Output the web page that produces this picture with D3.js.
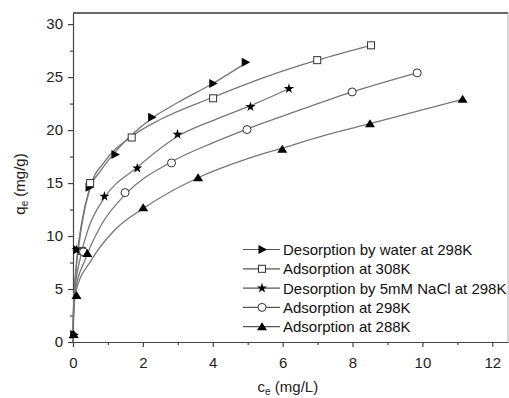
<!DOCTYPE html>
<html>
<head>
<meta charset="utf-8">
<script src="https://cdn.jsdelivr.net/npm/d3@7"></script>
<style>
  body { margin: 0; background: #fff; }
  svg { font-family: "Liberation Sans", Arial, sans-serif; }
  .axis path, .axis line { stroke: #444; stroke-width: 1.2; }
  .axis text { font-size: 15px; fill: #222; }
  .fitline { fill: none; stroke: #777; stroke-width: 1.3; }
</style>
</head>
<body>
<div id="chart"></div>
<script>
var waterDesorp298 = [[0.02, 0.7], [0.1, 8.7], [0.46, 14.6], [1.2, 17.7], [2.25, 21.2], [4.0, 24.4], [4.93, 26.4]];
var adsorp308 = [[0.25, 8.6], [0.49, 15.0], [1.68, 19.3], [4.01, 23.0], [6.99, 26.6], [8.53, 28.0]];
var naclDesorp298 = [[0.1, 8.7], [0.9, 13.75], [1.84, 16.4], [2.99, 19.6], [5.08, 22.2], [6.18, 23.9]];
var adsorp298 = [[0.3, 8.5], [1.49, 14.1], [2.82, 16.9], [4.98, 20.05], [7.99, 23.6], [9.85, 25.4]];
var adsorp288 = [[0.02, 0.7], [0.1, 4.4], [0.41, 8.35], [2.01, 12.66], [3.58, 15.5], [5.99, 18.2], [8.5, 20.6], [11.15, 22.9]];

// fitted curves
var waterFit = [[0, 0], [0.01, 2.5], [0.04, 4.8], [0.11, 7.9], [0.25, 11.3], [0.46, 14.3], [0.8, 16.2], [1.2, 17.9], [1.7, 19.6], [2.25, 21.1], [3, 22.6], [4, 24.4], [4.93, 26.3]];
var fit308 = [[0, 0], [0.01, 2.4], [0.04, 4.7], [0.12, 7.8], [0.25, 11.0], [0.49, 14.6], [0.9, 17.0], [1.68, 19.4], [2.5, 21.0], [4.01, 23.1], [5.5, 25.0], [6.99, 26.6], [8.53, 28.0]];
var naclFit = [[0, 0], [0.01, 2.2], [0.05, 4.7], [0.2, 7.8], [0.45, 10.8], [0.9, 13.6], [1.84, 16.5], [2.99, 19.4], [4, 20.9], [5.08, 22.3], [6.18, 23.9]];
var fit298 = [[0, 0], [0.01, 2.0], [0.06, 4.7], [0.35, 7.8], [0.8, 11.0], [1.49, 13.9], [2.82, 17.0], [4, 18.8], [4.98, 20.1], [6.5, 21.9], [7.99, 23.6], [9.85, 25.4]];
var fit288 = [[0, 0], [0.01, 1.8], [0.08, 4.7], [0.54, 7.8], [1.2, 10.6], [2.01, 12.6], [3.58, 15.5], [5, 17.3], [5.99, 18.3], [7.2, 19.5], [8.5, 20.6], [11.15, 22.9]];

var seriesNames = ["Desorption by water at 298K", "Adsorption at 308K", "Desorption by 5mM NaCl at 298K", "Adsorption at 298K", "Adsorption at 288K"];
var seriesData = [waterDesorp298, adsorp308, naclDesorp298, adsorp298, adsorp288];
var seriesFits = [waterFit, fit308, naclFit, fit298, fit288];
var seriesMarkers = ["triRight", "square", "star", "circle", "triUp"];

var xTicks = [0, 2, 4, 6, 8, 10, 12];
var yTicks = [0, 5, 10, 15, 20, 25, 30];

var width = 509, height = 398;
var margin = {top: 13, right: 1, bottom: 56, left: 73};

var svg = d3.select("#chart")
    .append("svg")
        .attr("width", width)
        .attr("height", height);

var plotW = width - margin.left - margin.right;
var plotH = height - margin.top - margin.bottom;

var g = svg.append("g")
    .attr("transform", "translate(" + margin.left + "," + margin.top + ")");

var x = d3.scaleLinear().domain([0, 12.45]).range([0, plotW]);
var y = d3.scaleLinear().domain([0, 31.05]).range([plotH, 0]);

// frame (top + right)
g.append("line").attr("x1", 0).attr("x2", plotW).attr("y1", 0).attr("y2", 0)
    .attr("stroke", "#666").attr("stroke-width", 2);
g.append("line").attr("x1", plotW).attr("x2", plotW).attr("y1", 0).attr("y2", plotH)
    .attr("stroke", "#aaa").attr("stroke-width", 1);

// minor ticks
g.append("g")
    .attr("class", "axis")
    .attr("transform", "translate(0," + plotH + ")")
    .call(d3.axisBottom(x).tickValues(d3.range(1, 13, 2)).tickSize(3).tickFormat(""))
    .call(function(s) { s.select(".domain").remove(); });
g.append("g")
    .attr("class", "axis")
    .call(d3.axisLeft(y).tickValues(d3.range(2.5, 31, 5)).tickSize(3).tickFormat(""))
    .call(function(s) { s.select(".domain").remove(); });

// major axes
g.append("g")
    .attr("class", "axis")
    .attr("transform", "translate(0," + plotH + ")")
    .call(d3.axisBottom(x).tickValues(xTicks).tickSize(5).tickSizeOuter(0).tickPadding(10));
g.append("g")
    .attr("class", "axis")
    .call(d3.axisLeft(y).tickValues(yTicks).tickSize(5).tickSizeOuter(0).tickPadding(5));

// axis labels
var xl = svg.append("text")
    .attr("x", margin.left + x(6.15))
    .attr("y", 392)
    .attr("text-anchor", "middle")
    .style("font-size", "15px")
    .attr("fill", "#222");
xl.append("tspan").text("c");
xl.append("tspan").text("e").attr("dy", 3).style("font-size", "10px");
xl.append("tspan").text(" (mg/L)").attr("dy", -3);

var yl = svg.append("text")
    .attr("transform", "translate(25,184) rotate(-90)")
    .attr("text-anchor", "middle")
    .style("font-size", "15px")
    .attr("fill", "#222");
yl.append("tspan").text("q");
yl.append("tspan").text("e").attr("dy", 3).style("font-size", "10px");
yl.append("tspan").text(" (mg/g)").attr("dy", -3);

// marker shapes
function drawMarker(sel, type) {
    if (type === "triRight") {
        sel.append("path").attr("d", "M-3.5,-4.5L5,0L-3.5,4.5Z").attr("fill", "#000");
    } else if (type === "triUp") {
        sel.append("path").attr("d", "M0,-4.5L5,3.5L-5,3.5Z").attr("fill", "#000");
    } else if (type === "square") {
        sel.append("rect").attr("x", -3.5).attr("y", -3.5).attr("width", 7).attr("height", 7)
            .attr("fill", "#fff").attr("stroke", "#333").attr("stroke-width", 1);
    } else if (type === "circle") {
        sel.append("circle").attr("r", 4)
            .attr("fill", "#fff").attr("stroke", "#333").attr("stroke-width", 1);
    } else if (type === "star") {
        sel.append("path").attr("d", d3.symbol().type(d3.symbolStar).size(32)).attr("fill", "#000");
    }
}

var line = d3.line()
    .x(function(d) { return x(d[0]); })
    .y(function(d) { return y(d[1]); })
    .curve(d3.curveMonotoneX);

seriesFits.forEach(function(fit) {
    g.append("path")
        .datum(fit)
        .attr("class", "fitline")
        .attr("d", line);
});

seriesData.forEach(function(data, i) {
    g.selectAll(".m" + i)
        .data(data)
        .enter().append("g")
        .attr("class", "m" + i)
        .attr("transform", function(d) { return "translate(" + x(d[0]) + "," + y(d[1]) + ")"; })
        .each(function() { drawMarker(d3.select(this), seriesMarkers[i]); });
});

// legend
var legend = svg.append("g").attr("transform", "translate(243,249.5)");
seriesNames.forEach(function(name, i) {
    var row = legend.append("g").attr("transform", "translate(0," + (i * 19.3) + ")");
    row.append("line").attr("x1", 0).attr("x2", 37).attr("y1", 0).attr("y2", 0)
        .attr("stroke", "#555").attr("stroke-width", 1.2);
    drawMarker(row.append("g").attr("transform", "translate(19,0)"), seriesMarkers[i]);
    row.append("text").attr("x", 40).attr("y", 5.5)
        .style("font-size", "15px").attr("fill", "#111").text(name);
});
</script>
</body>
</html>
